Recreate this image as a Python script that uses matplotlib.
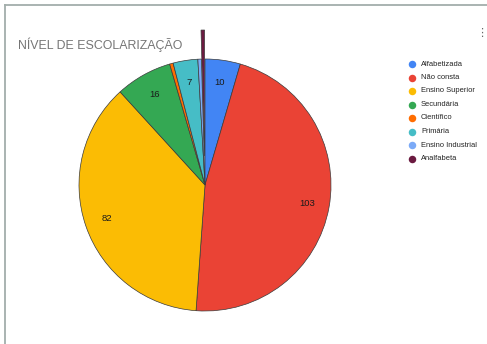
import matplotlib
matplotlib.use("Agg")
import matplotlib.pyplot as plt
from matplotlib.lines import Line2D

plt.rcParams['font.family'] = ['Liberation Sans', 'DejaVu Sans']

title = "NÍVEL DE ESCOLARIZAÇÃO"
categories = ["Alfabetizada", "Não consta", "Ensino Superior", "Secundária",
              "Científico", "Primária", "Ensino Industrial", "Analfabeta"]
values = [10, 103, 82, 16, 1, 7, 1, 1]
colors = ["#4285f4", "#ea4335", "#fbbc04", "#34a853",
          "#ff6d01", "#46bdc6", "#7baaf7", "#6b1a40"]
explode = [0, 0, 0, 0, 0, 0, 0, 0.23]

W, H = 487, 344
fig = plt.figure(figsize=(W / 100, H / 100), dpi=100)

# chart frame (top and left edge visible)
fig.add_artist(Line2D([5 / W, 1], [1 - 5 / H, 1 - 5 / H], color="#a3aeab", lw=1.3))
fig.add_artist(Line2D([5 / W, 5 / W], [0, 1 - 5 / H], color="#a3aeab", lw=1.3))

fig.text(18 / W, 1 - 48.5 / H, title, fontsize=8.9, color="#757575", va="baseline")
fig.text(482 / W, 1 - 33 / H, "⋮", fontsize=8, color="#666666",
         ha="center", va="center", family="DejaVu Sans")

cx, cy, R = 205, 185, 126
ax = fig.add_axes([(cx - R) / W, (H - cy - R) / H, 2 * R / W, 2 * R / H])
ax.set_xlim(-1, 1)
ax.set_ylim(-1, 1)
ax.axis("off")

total = sum(values)


def fmt(pct):
    v = round(pct * total / 100)
    return f"{v}" if v >= 5 else ""


wedges, texts, autotexts = ax.pie(
    values, colors=colors, explode=explode, startangle=90, counterclock=False,
    radius=1, autopct=fmt, pctdistance=0.82,
    wedgeprops=dict(edgecolor="#3a3a3a", linewidth=0.5, clip_on=False),
    textprops=dict(fontsize=6.8, color="#1a1a1a"))
ax.set_xlim(-1, 1)
ax.set_ylim(-1, 1)

# legend
lx, ly0, dy = 412, 64, 13.5
for i, (lab, col) in enumerate(zip(categories, colors)):
    y = 1 - (ly0 + i * dy) / H
    fig.add_artist(Line2D([lx / W], [y], marker="o", markersize=5.4,
                          color=col, markeredgewidth=0, linestyle=""))
    fig.text((lx + 9) / W, y, lab, fontsize=5.4, color="#222222", va="center")

fig.savefig("out.png", dpi=100)
